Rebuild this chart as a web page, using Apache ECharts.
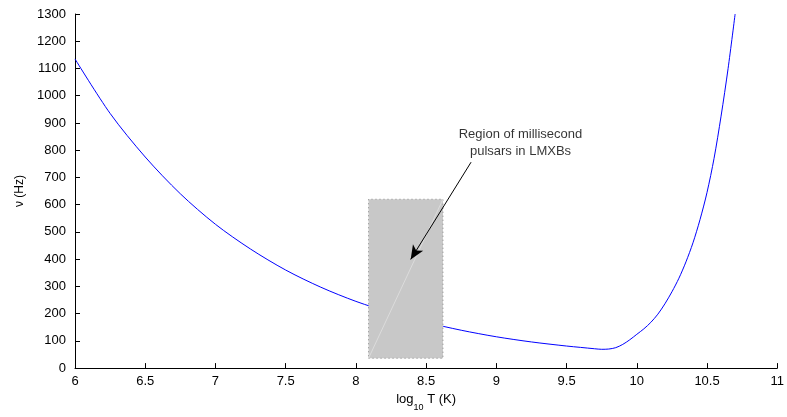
<!DOCTYPE html>
<html>
<head>
<meta charset="utf-8">
<script src="https://cdn.jsdelivr.net/npm/echarts@6/dist/echarts.min.js"></script>
<style>
html,body{margin:0;padding:0;background:#fff;}
#chart{width:787px;height:417px;}
</style>
</head>
<body>
<div id="chart"></div>
<script>
// log10 T (K)
var logT = [6.0, 6.25, 6.5, 6.75, 7.0, 7.25, 7.5, 7.75, 8.0, 8.25, 8.5, 8.75, 9.0, 9.25, 9.5, 9.6, 9.7, 9.75, 9.8, 9.85, 9.9, 9.95, 10.0, 10.05, 10.1, 10.15, 10.2, 10.25, 10.3, 10.35, 10.4, 10.45, 10.5, 10.55, 10.6, 10.65, 10.7];
// nu (Hz)
var nuHz = [1135, 935, 775, 640, 528, 437, 360, 297, 245, 203, 168, 139, 115, 96, 81, 76, 71, 69, 70, 75, 87, 104, 124, 144, 168, 198, 236, 280, 330, 390, 460, 545, 645, 770, 925, 1100, 1300];
// shaded region of millisecond pulsars in LMXBs: [logT min, logT max], [nu min, nu max]
var regionX = [8.09, 8.62];
var regionY = [36, 620];
// annotation arrow: from [logT, nu] to [logT, nu]
var arrowFrom = [8.82, 756];
var arrowTo = [8.39, 399];
var annotationPos = [9.172, 825];
var annotationText = 'Region of millisecond\npulsars in LMXBs';

var curve = logT.map(function (x, i) { return [x, nuHz[i]]; });

var chart = echarts.init(document.getElementById('chart'));
var fontFam = '"Liberation Sans", Arial, Helvetica, sans-serif';
chart.setOption({
  animation: false,
  backgroundColor: '#fff',
  grid: { left: 75, right: 9, top: 14, bottom: 35, containLabel: false },
  xAxis: {
    type: 'value', min: 6, max: 11, interval: 0.5,
    axisLine: { show: true, lineStyle: { color: '#000', width: 1 } },
    axisTick: { show: true, inside: true, length: 5, lineStyle: { color: '#000' } },
    axisLabel: { color: '#000', fontSize: 13, fontFamily: fontFam, margin: 7, formatter: function (v) { return String(v); } },
    splitLine: { show: false },
    name: '{a|log}{s|10}{a| T (K)}',
    nameLocation: 'middle',
    nameGap: 17,
    nameTextStyle: {
      rich: {
        a: { fontSize: 13, color: '#000', fontFamily: fontFam },
        s: { fontSize: 9, color: '#000', fontFamily: fontFam, verticalAlign: 'bottom', padding: [0, 0, -6, 0] }
      }
    }
  },
  yAxis: {
    type: 'value', min: 0, max: 1300, interval: 100,
    axisLine: { show: true, lineStyle: { color: '#000', width: 1 } },
    axisTick: { show: true, inside: true, length: 5, lineStyle: { color: '#000' } },
    axisLabel: { color: '#000', fontSize: 13, fontFamily: fontFam, margin: 9, formatter: function (v) { return String(v); } },
    splitLine: { show: false },
    name: 'ν (Hz)',
    nameLocation: 'middle',
    nameGap: 48,
    nameTextStyle: { color: '#000', fontSize: 12, fontFamily: fontFam }
  },
  series: [
    {
      type: 'line', data: curve, showSymbol: false, symbol: 'none',
      smooth: 0.3,
      lineStyle: { color: '#0000ff', width: 1 }, z: 2, silent: true
    },
    {
      type: 'line', data: [], z: 5, silent: true,
      markArea: {
        silent: true, z: 5,
        itemStyle: { color: '#c8c8c8', borderColor: '#8a8a8a', borderWidth: 1, borderType: [1, 3] },
        label: { show: false },
        emphasis: { disabled: true },
        data: [[{ coord: [regionX[0], regionY[0]] }, { coord: [regionX[1], regionY[1]] }]]
      }
    },
    {
      type: 'line', z: 6, silent: true, symbol: 'none',
      data: [[regionX[0], regionY[0]], [regionX[1], regionY[1]]],
      lineStyle: { color: '#dcdcdc', width: 1 }
    },
    {
      type: 'line', data: [], z: 7, silent: true,
      markLine: {
        silent: true, animation: false, z: 7,
        symbol: ['none', 'arrow'], symbolSize: [9, 14],
        label: { show: false },
        lineStyle: { color: '#000', width: 1, type: 'solid' },
        emphasis: { disabled: true },
        data: [[{ coord: arrowFrom }, { coord: arrowTo }]]
      }
    },
    {
      type: 'scatter', z: 8, silent: true, symbolSize: 1,
      itemStyle: { color: 'rgba(0,0,0,0)' },
      data: [annotationPos],
      label: {
        show: true, position: 'inside', formatter: annotationText,
        color: '#000', fontSize: 13, lineHeight: 17, align: 'center', fontFamily: fontFam
      }
    }
  ]
});
</script>
</body>
</html>
